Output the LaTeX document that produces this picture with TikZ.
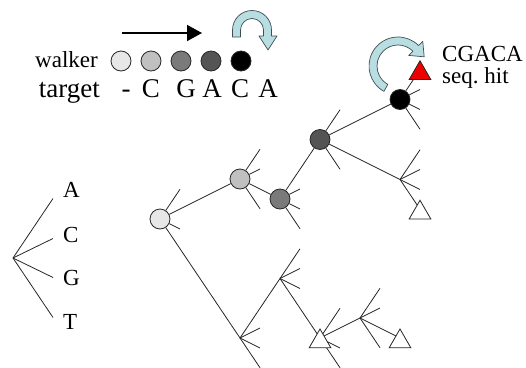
\documentclass[tikz,border=0pt]{standalone}
\usepackage{fontspec}
\setmainfont{Liberation Serif}
\usepackage{tikz}
\usetikzlibrary{arrows.meta,calc,shapes.geometric}
\definecolor{beadA}{RGB}{231,231,231}
\definecolor{beadB}{RGB}{192,192,192}
\definecolor{beadC}{RGB}{122,122,122}
\definecolor{beadD}{RGB}{84,84,84}
\definecolor{turnblue}{RGB}{184,222,226}
\definecolor{turnedge}{RGB}{62,78,82}
\definecolor{hitred}{RGB}{238,0,0}
\tikzset{
 bead/.style={circle,draw=black!85,line width=.8pt,minimum size=20pt,inner sep=0pt},
 branch/.style={black!85,line width=.8pt},
 leaf/.style={regular polygon,regular polygon sides=3,draw=black!85,line width=.8pt,
  fill=white,minimum size=25pt,inner sep=0pt,yshift=-3.5pt},
 turn/.style={fill=turnblue,draw=turnedge,line width=.7pt,line join=round},
 lab/.style={font=\fontsize{23}{27}\selectfont,inner sep=0pt},
 tgt/.style={font=\fontsize{27}{31}\selectfont,inner sep=0pt}
}

\begin{document}
\begin{tikzpicture}[x=1pt,y=-1pt]
 \useasboundingbox (0,0) rectangle (526,367);
 % walker row and target row
 \node[lab,anchor=base east] (walk) at (98,67) {walker};
 \node[tgt,anchor=base east] (targ) at (100,97) {target};
 \foreach \c [count=\k] in {beadA,beadB,beadC,beadD,black}
  \node[bead,fill=\c] (w\k) at (91+30*\k,61) {};
 \foreach \x/\t [count=\k] in {126/-,151/C,186/G,212/A,240/C,268/A}
  \node[tgt,anchor=base] (s\k) at (\x,97) {\t};
 \coordinate (aS) at (122,33);
 \coordinate (aE) at (202,33);
 \draw[line width=1.6pt,-{Triangle[length=15pt,width=16pt]}] (aS) -- (aE);
 % turn arrow over the walker
 \filldraw[turn] (232.5,37) -- (232.5,30)
  arc[start angle=180,end angle=360,radius=19.5] -- (271.5,36) -- (277,36)
  -- (268,50) -- (259,36) -- (263.5,36) -- (263.5,30)
  arc[start angle=0,end angle=-180,radius=11.5] -- (240.5,37) -- cycle;

 % tree
 \node[bead,fill=beadA] (n1) at (160,219) {};
 \node[bead,fill=beadB] (n2) at (240,179) {};
 \node[bead,fill=beadC] (n3) at (280,199) {};
 \node[bead,fill=beadD] (n4) at (320,139.5) {};
 \node[bead,fill=black] (n5) at (400,99.5) {};
 \coordinate (bA) at (400,179.5);
 \coordinate (b1) at (240,338);
 \coordinate (b2) at (280,278.5);
 \coordinate (b3) at (320,338);
 \coordinate (b4) at (360,318);
 \coordinate (hit) at (420,69.75);
 \coordinate (e1) at (420,209.25);
 \coordinate (e2) at (400,338);
 \draw[branch] (n1) -- (n2) -- (n3) -- (n4) -- (n5) -- (hit);
 \draw[branch] (n4) -- (bA) -- (e1);
 \draw[branch] (n1) -- (b1) -- (b2) -- (b3) -- (b4) -- (e2);
 \foreach \p/\dy in {n1/-29.75,n1/10,n2/-29.75,n2/-10,n2/29.75,
   n3/-10,n3/10,n3/29.75,n4/-29.75,n4/29.75,n5/-10,n5/10,n5/29.75,
   bA/-29.75,bA/-10,bA/10,b1/-10,b1/10,b1/29.75,b2/-29.75,b2/-10,b2/10,
   b3/-29.75,b3/10,b3/29.75,b4/-29.75,b4/-10,b4/29.75}
  \draw[branch] (\p) -- ++(20,\dy);
 \node[leaf,fill=hitred] (hitT) at (hit) {};
 \node[leaf] (t1) at (e1) {};
 \node[leaf] (t2) at (b3) {};
 \node[leaf] (t3) at (e2) {};
 % turn arrow at the hit
 \coordinate (c2) at (398,66);
 \filldraw[turn] ($(c2)+(119:21)$) -- ($(c2)+(119:29)$)
  arc[start angle=119,end angle=315,radius=29] -- ($(c2)+(315:35)$)
  -- ($(c2)+(315:25)+(8.5,8.5)$) -- ($(c2)+(315:15)$) -- ($(c2)+(315:21)$)
  arc[start angle=315,end angle=119,radius=21] -- cycle;
 \node[lab,anchor=base west] (seqA) at (442,61) {CGACA};
 \node[lab,anchor=base west] (seqB) at (442,83) {seq.\ hit};

 % legend
 \coordinate (root) at (13,258);
 \foreach \dy/\t/\y in {-59.5/A/197,-19.5/C/242,19.5/G/285,59.5/T/329}{
  \draw[branch] (root) -- ++(40,\dy);
  \node[lab,anchor=base west] (key\t) at (63,\y) {\t};
 }
\end{tikzpicture}
\end{document}
